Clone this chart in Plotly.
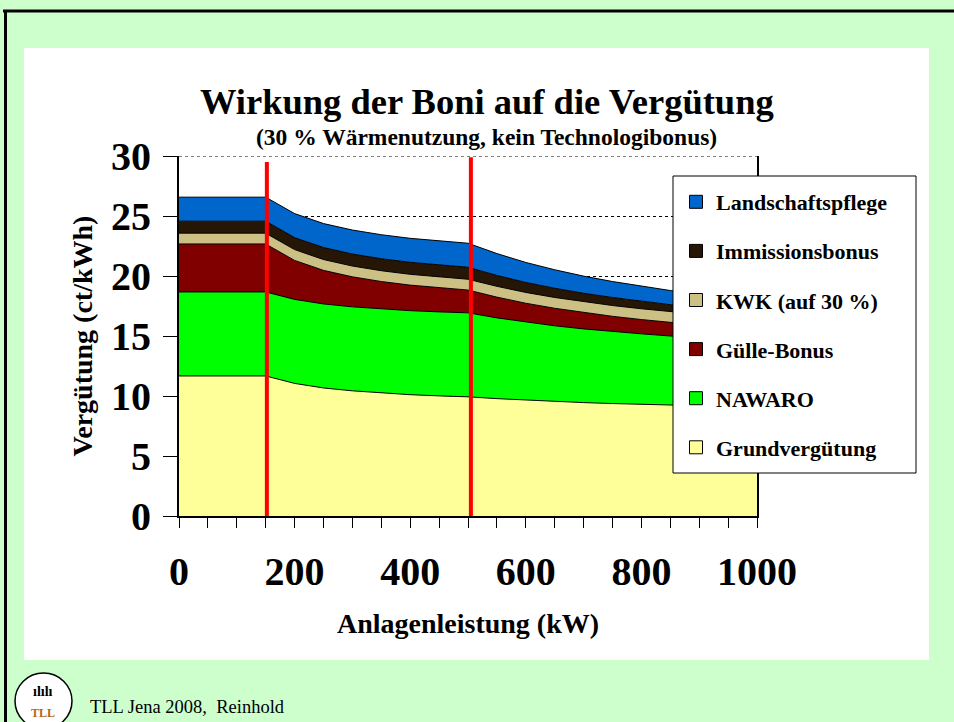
import plotly.graph_objects as go

# ---------------- data ----------------
leistung_kw = [0, 50, 100, 150, 200, 250, 300, 350, 400, 450, 500,
               550, 600, 650, 700, 750, 800, 850, 900, 950, 1000]

grundverguetung = [11.67, 11.67, 11.67, 11.67, 11.05, 10.67, 10.43, 10.25, 10.11, 10.01, 9.93,
                   9.78, 9.65, 9.54, 9.45, 9.37, 9.30, 9.24, 9.18, 9.13, 9.09]
nawaro = [7.00, 7.00, 7.00, 7.00, 7.00, 7.00, 7.00, 7.00, 7.00, 7.00, 7.00,
          6.73, 6.50, 6.31, 6.14, 6.00, 5.88, 5.76, 5.67, 5.58, 5.50]
guelle_bonus = [4.00, 4.00, 4.00, 4.00, 3.25, 2.80, 2.50, 2.29, 2.13, 2.00, 1.90,
                1.73, 1.58, 1.46, 1.36, 1.27, 1.19, 1.12, 1.06, 1.00, 0.95]
kwk = [0.90, 0.90, 0.90, 0.90, 0.90, 0.90, 0.90, 0.90, 0.90, 0.90, 0.90,
       0.90, 0.90, 0.90, 0.90, 0.90, 0.90, 0.90, 0.90, 0.90, 0.90]
immissionsbonus = [1.00, 1.00, 1.00, 1.00, 1.00, 1.00, 1.00, 1.00, 1.00, 1.00, 1.00,
                   0.91, 0.83, 0.77, 0.71, 0.67, 0.63, 0.59, 0.56, 0.53, 0.50]
landschaftspflege = [2.00, 2.00, 2.00, 2.00, 2.00, 2.00, 2.00, 2.00, 2.00, 2.00, 2.00,
                     1.82, 1.67, 1.54, 1.43, 1.33, 1.25, 1.18, 1.11, 1.05, 1.00]

series_names = ["Grundvergütung", "NAWARO", "Gülle-Bonus", "KWK (auf 30 %)",
                "Immissionsbonus", "Landschaftspflege"]
series_values = [grundverguetung, nawaro, guelle_bonus, kwk, immissionsbonus, landschaftspflege]
series_colors = ["#FFFF99", "#00FF00", "#800000", "#CCC085", "#261606", "#0066CC"]

schwellen_kw = [152, 505]          # red threshold lines
schwellen_top = [29.5, 29.9]

x_ticks = [0, 200, 400, 600, 800, 1000]
y_ticks = [0, 5, 10, 15, 20, 25, 30]

title_text = "Wirkung der Boni auf die Vergütung"
subtitle_text = "(30 % Wärmenutzung, kein Technologibonus)"
x_title = "Anlagenleistung (kW)"
y_title = "Vergütung (ct/kWh)"
footer_text = "TLL Jena 2008,  Reinhold"

# ---------------- layout helpers ----------------
W, H = 954, 722
PL, PR, PT, PB = 179, 757, 156, 516   # plot area in pixels
def px(x):
    return (x - PL) / (PR - PL)
def py(y):
    return (PB - y) / (PB - PT)

FONT = "Liberation Serif, Times New Roman, serif"

fig = go.Figure()

for name, vals, col in zip(series_names, series_values, series_colors):
    fig.add_trace(go.Scatter(
        x=leistung_kw, y=vals, name=name, stackgroup="one",
        mode="lines", line=dict(color="black", width=1),
        fillcolor=col, showlegend=False, hoverinfo="x+y+name"))

# legend entries (square markers), top-most series first
for name, col in zip(series_names[::-1], series_colors[::-1]):
    fig.add_trace(go.Scatter(
        x=[None], y=[None], name=name, mode="markers",
        marker=dict(symbol="square", size=13, color=col,
                    line=dict(color="black", width=1)),
        legendgroup=name, showlegend=True))

shapes = []
# page decoration: white chart area and black frame
shapes.append(dict(type="rect", xref="paper", yref="paper",
                   x0=px(24), x1=px(929), y0=py(660), y1=py(48),
                   fillcolor="white", line=dict(width=0), layer="below"))
shapes.append(dict(type="line", xref="paper", yref="paper",
                   x0=px(3), x1=px(954), y0=py(11), y1=py(11),
                   line=dict(color="black", width=3)))
shapes.append(dict(type="line", xref="paper", yref="paper",
                   x0=px(5.5), x1=px(5.5), y0=py(722), y1=py(10),
                   line=dict(color="black", width=3)))
# top dotted gridline at the axis maximum
shapes.append(dict(type="line", xref="x", yref="y", x0=leistung_kw[0], x1=leistung_kw[-1],
                   y0=y_ticks[-1], y1=y_ticks[-1],
                   line=dict(color="black", width=1, dash="dot"), layer="below"))
# threshold lines
for xs, yt in zip(schwellen_kw, schwellen_top):
    shapes.append(dict(type="line", xref="x", yref="y", x0=xs, x1=xs, y0=-0.15, y1=yt,
                       line=dict(color="#FF0000", width=4), layer="above"))
# legend box
shapes.append(dict(type="rect", xref="paper", yref="paper",
                   x0=px(673), x1=px(916), y0=py(473), y1=py(176),
                   fillcolor="white", line=dict(color="black", width=1), layer="above"))
# logo
shapes.append(dict(type="circle", xref="paper", yref="paper",
                   x0=px(15), x1=px(72), y0=py(729), y1=py(673),
                   fillcolor="white", line=dict(color="black", width=1.5)))

annotations = [
    dict(text=title_text, xref="paper", yref="paper",
         x=px(487), y=py(101), showarrow=False, xanchor="center", yanchor="middle",
         font=dict(family=FONT, size=36.5, color="black", weight="bold")),
    dict(text=subtitle_text, xref="paper", yref="paper",
         x=px(486), y=py(137), showarrow=False, xanchor="center", yanchor="middle",
         font=dict(family=FONT, size=23.5, color="black", weight="bold")),
    dict(text=footer_text, xref="paper", yref="paper",
         x=px(88), y=py(707), showarrow=False, xanchor="left", yanchor="middle",
         font=dict(family=FONT, size=18.5, color="black")),
    dict(text="TLL", xref="paper", yref="paper",
         x=px(43), y=py(713), showarrow=False, xanchor="center", yanchor="middle",
         font=dict(family=FONT, size=12, color="#B5651D", weight="bold")),
    dict(text="ılılı", xref="paper", yref="paper",
         x=px(43), y=py(691), showarrow=False, xanchor="center", yanchor="middle",
         font=dict(family=FONT, size=14, color="black", weight="bold")),
]

fig.update_layout(
    width=W, height=H,
    margin=dict(l=PL, r=W - PR, t=PT, b=H - PB, pad=0),
    paper_bgcolor="#CCFFCC", plot_bgcolor="white",
    font=dict(family=FONT, color="black"),
    showlegend=True,
    legend=dict(x=px(676), y=py(181), xanchor="left", yanchor="top",
                bgcolor="rgba(0,0,0,0)", borderwidth=0,
                traceorder="grouped", tracegroupgap=17.5,
                font=dict(family=FONT, size=22, color="black", weight="bold")),
    shapes=shapes, annotations=annotations,
    xaxis=dict(range=[0, 1000], tickvals=x_ticks,
               ticks="outside", ticklen=10, tickwidth=1, tickcolor="black",
               minor=dict(dtick=50, tick0=0, ticks="outside", ticklen=10,
                          tickwidth=1, tickcolor="black", showgrid=False),
               showline=True, linecolor="black", linewidth=2,
               showgrid=False, zeroline=False, ticklabelstandoff=9,
               tickfont=dict(family=FONT, size=40, color="black", weight="bold"),
               title=dict(text=x_title, standoff=20,
                          font=dict(family=FONT, size=28, color="black", weight="bold"))),
    yaxis=dict(range=[0, 30], tickvals=y_ticks,
               ticks="outside", ticklen=14, tickwidth=1, tickcolor="black",
               showline=True, linecolor="black", linewidth=2, mirror=True,
               showgrid=True, gridcolor="black", griddash="dot", gridwidth=1,
               zeroline=False, ticklabelstandoff=4,
               tickfont=dict(family=FONT, size=40, color="black", weight="bold"),
               title=dict(text=y_title, standoff=10,
                          font=dict(family=FONT, size=28, color="black", weight="bold"))),
)

fig.write_html("out.html", config={"displayModeBar": False},
               post_script="document.body.style.margin='0px';")
